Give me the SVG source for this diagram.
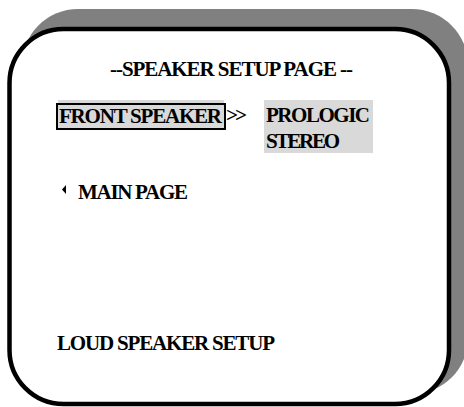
<svg xmlns="http://www.w3.org/2000/svg" width="464" height="407" viewBox="0 0 464 407">
<style>
  .t { font-family: "Liberation Serif", "Times New Roman", serif; font-weight: bold; font-size: 21px; fill: #000; }
  .hl { fill: #d9d9d9; }
</style>
<rect width="464" height="407" fill="#ffffff"/>
<g id="panel">
  <rect id="shadow" x="22" y="9" width="446" height="385" rx="56" ry="56" fill="#808080"/>
  <rect id="frame" x="9.5" y="29" width="439.5" height="375" rx="54" ry="54" fill="#ffffff" stroke="#000" stroke-width="4.5"/>
</g>
<g id="title">
  <text class="t" x="110" y="76" textLength="243" font-size="19">--SPEAKER SETUP PAGE --</text>
</g>
<g id="front-speaker">
  <rect class="hl" x="58" y="100" width="166" height="27"/>
  <rect class="hl" x="57" y="104" width="168" height="25" stroke="#000" stroke-width="2"/>
  <text class="t" x="59" y="123" textLength="163">FRONT SPEAKER</text>
  <text class="t" x="226" y="122" textLength="21">&gt;&gt;</text>
</g>
<g id="options">
  <rect class="hl" x="264" y="100" width="109" height="53"/>
  <text class="t" x="266" y="122" textLength="104">PROLOGIC</text>
  <text class="t" x="266" y="148" textLength="74">STEREO</text>
</g>
<g id="main-page">
  <polygon points="62,189.5 66,185 66,194" fill="#000"/>
  <text class="t" x="78" y="199" textLength="110">MAIN PAGE</text>
</g>
<g id="loud-speaker">
  <text class="t" x="57" y="350" textLength="218">LOUD SPEAKER SETUP</text>
</g>
</svg>
